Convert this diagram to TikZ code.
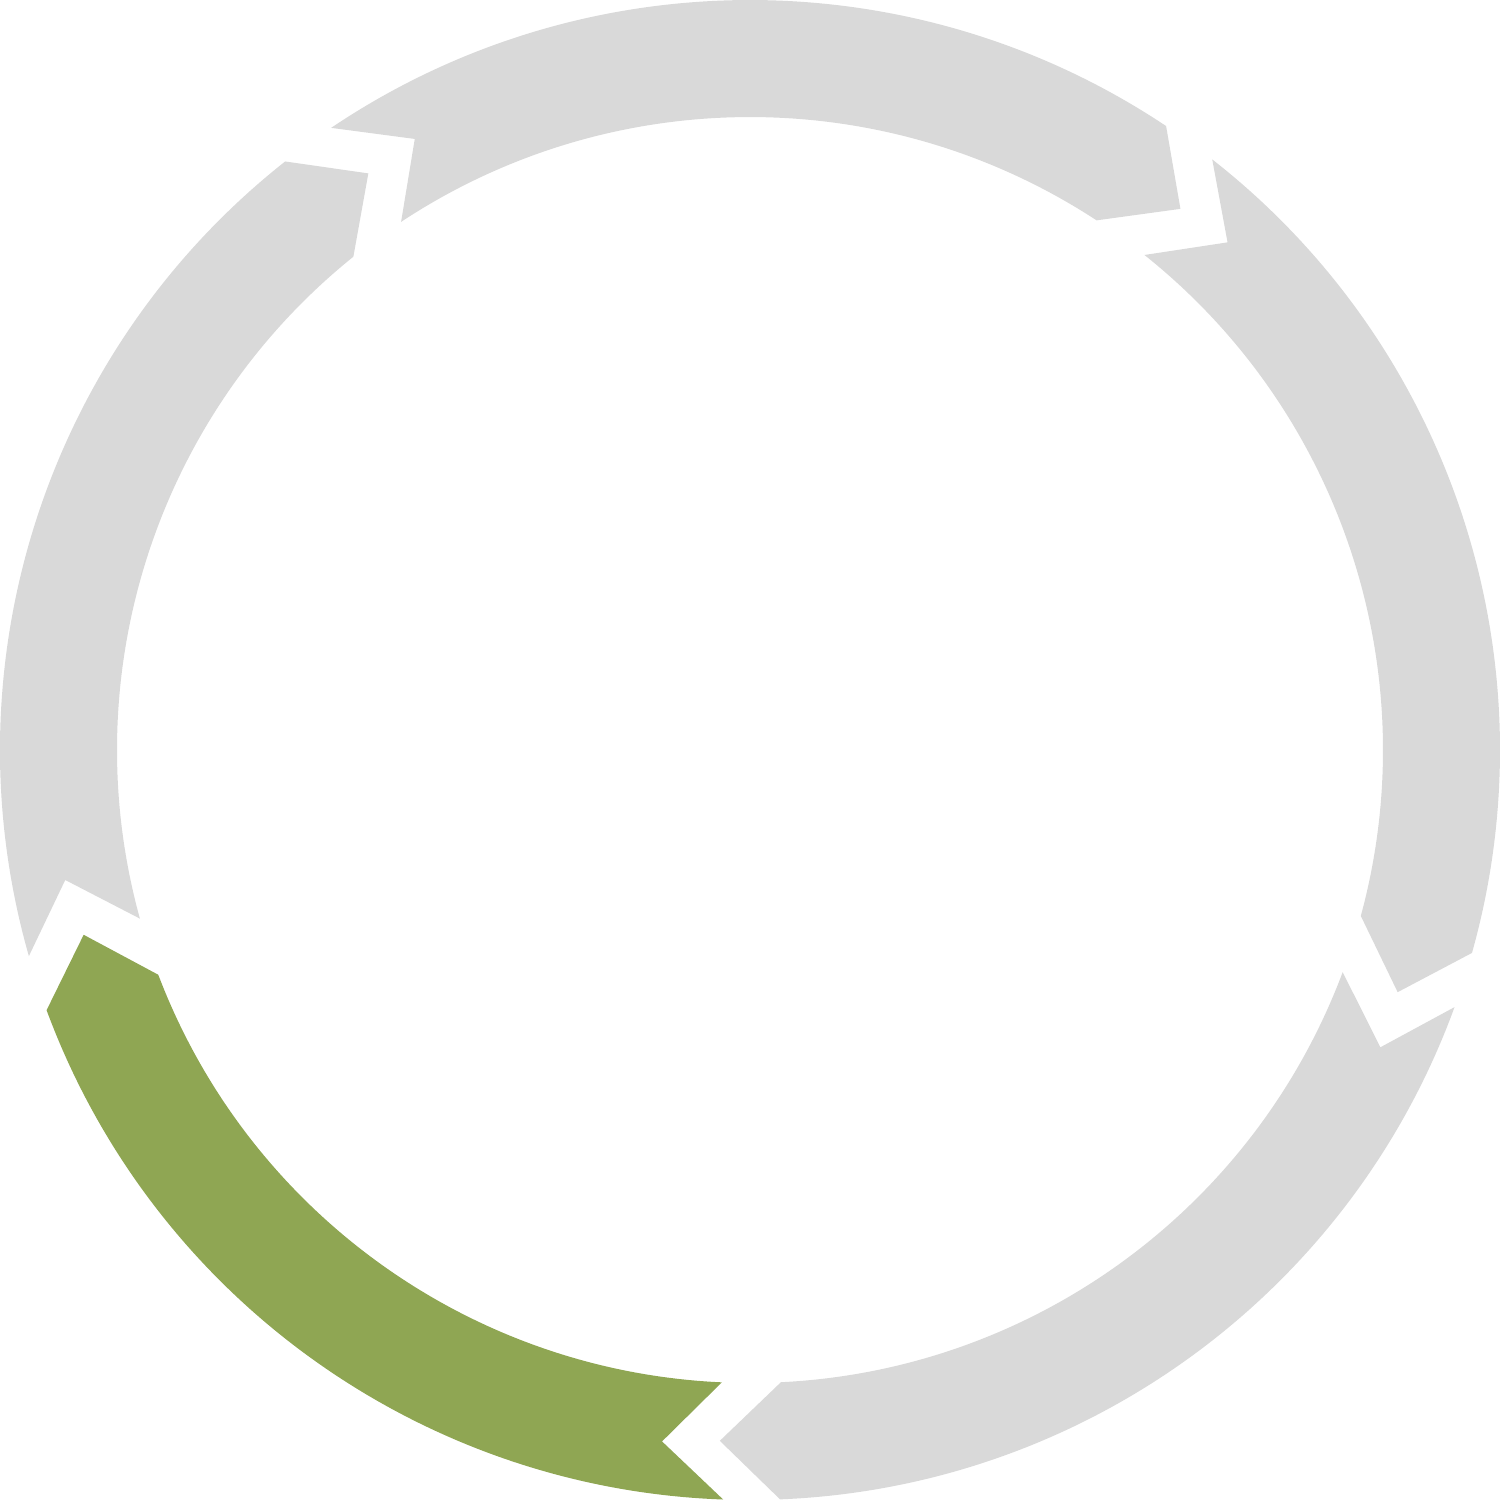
\documentclass[tikz,border=0pt]{standalone}
\usepackage{tikz}
\definecolor{segGray}{HTML}{D9D9D9}
\definecolor{segGreen}{HTML}{8FA653}
\tikzset{segment/.style={fill=#1, draw=none}}

\begin{document}
\begin{tikzpicture}

            \useasboundingbox (-7.5,-7.5) rectangle (7.5,7.5);

            \foreach \tip/\col in {51.5/segGray, -20.5/segGray, -92.5/segGray, -164.5/segGreen, 123.5/segGray}{
                \fill[segment=\col] ({\tip+4.8}:7.5) arc[start angle={\tip+4.8}, end angle={\tip+72.45}, radius=7.5]
                    -- ({\tip+67.25}:6.97) -- ({\tip+71.95}:6.33)
                    arc[start angle={\tip+71.95}, end angle={\tip+5.3}, radius=6.33]
                    -- (\tip:6.915) -- cycle;
            }

        \end{tikzpicture}
\end{document}
